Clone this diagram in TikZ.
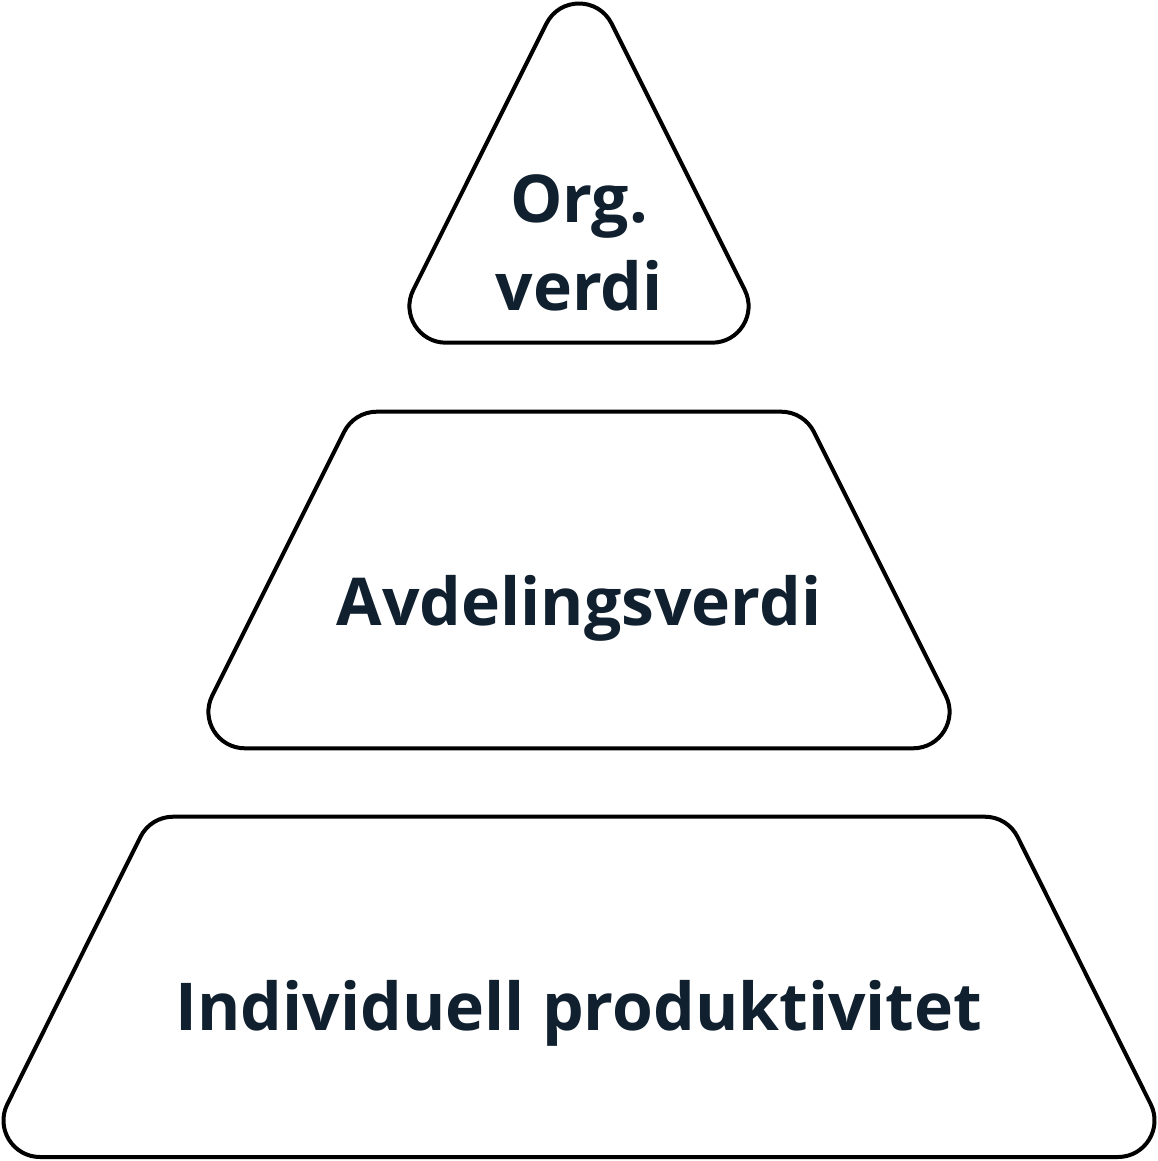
\documentclass[tikz,border=0pt]{standalone}
\usepackage{fontspec}
\setmainfont{Open Sans}
\usetikzlibrary{calc}
\definecolor{ink}{HTML}{10202E}
\newcommand\crn[5]{-- ($(#2)!#4!(#1)$) .. controls ($(#2)!#5!(#1)$) and ($(#2)!#5!(#3)$) .. ($(#2)!#4!(#3)$)}
\begin{document}
\begin{tikzpicture}[x=1pt,y=-1pt,
  tier/.style={draw=black,line width=4pt,line join=round},
  lbl/.style={text=ink,font=\fontsize{66}{87.5}\selectfont\bfseries,align=center,inner sep=0pt}]
\useasboundingbox (0,0) rectangle (1158,1161);
% vertices
\coordinate (tA) at (579,-41.6);
\coordinate (tL) at (386.9,342.7);
\coordinate (tR) at (771.1,342.7);
\coordinate (mTL) at (354.2,411.7);
\coordinate (mTR) at (803.8,411.7);
\coordinate (mBL) at (185.9,748.3);
\coordinate (mBR) at (972.1,748.3);
\coordinate (bTL) at (150.5,816.7);
\coordinate (bTR) at (1007.5,816.7);
\coordinate (bBL) at (-19,1157);
\coordinate (bBR) at (1177,1157);
\begin{scope}
\clip (0,0) rectangle (1158,1161);
% top triangle
\draw[tier] (579,342.7) \crn{tL}{tR}{tA}{59.06pt}{31.9pt} \crn{tR}{tA}{tL}{73pt}{42.9pt} \crn{tA}{tL}{tR}{59.06pt}{31.9pt} -- cycle;
% middle trapezoid
\draw[tier] (579,748.3) \crn{mBL}{mBR}{mTR}{59.06pt}{31.9pt} \crn{mBR}{mTR}{mTL}{22.56pt}{8.73pt} \crn{mTR}{mTL}{mBL}{22.56pt}{8.73pt} \crn{mTL}{mBL}{mBR}{59.06pt}{31.9pt} -- cycle;
% bottom trapezoid
\draw[tier] (579,1157) \crn{bBL}{bBR}{bTR}{59.06pt}{31.9pt} \crn{bBR}{bTR}{bTL}{22.56pt}{8.73pt} \crn{bTR}{bTL}{bBL}{22.56pt}{8.73pt} \crn{bTL}{bBL}{bBR}{59.06pt}{31.9pt} -- cycle;
\end{scope}
\node[lbl,anchor=base] (org) at (579,310) {Org.\\verdi};
\node[lbl,anchor=base] (avd) at (579,625) {Avdelingsverdi};
\node[lbl,anchor=base] (ind) at (579,1030) {Individuell produktivitet};
\end{tikzpicture}
\end{document}
